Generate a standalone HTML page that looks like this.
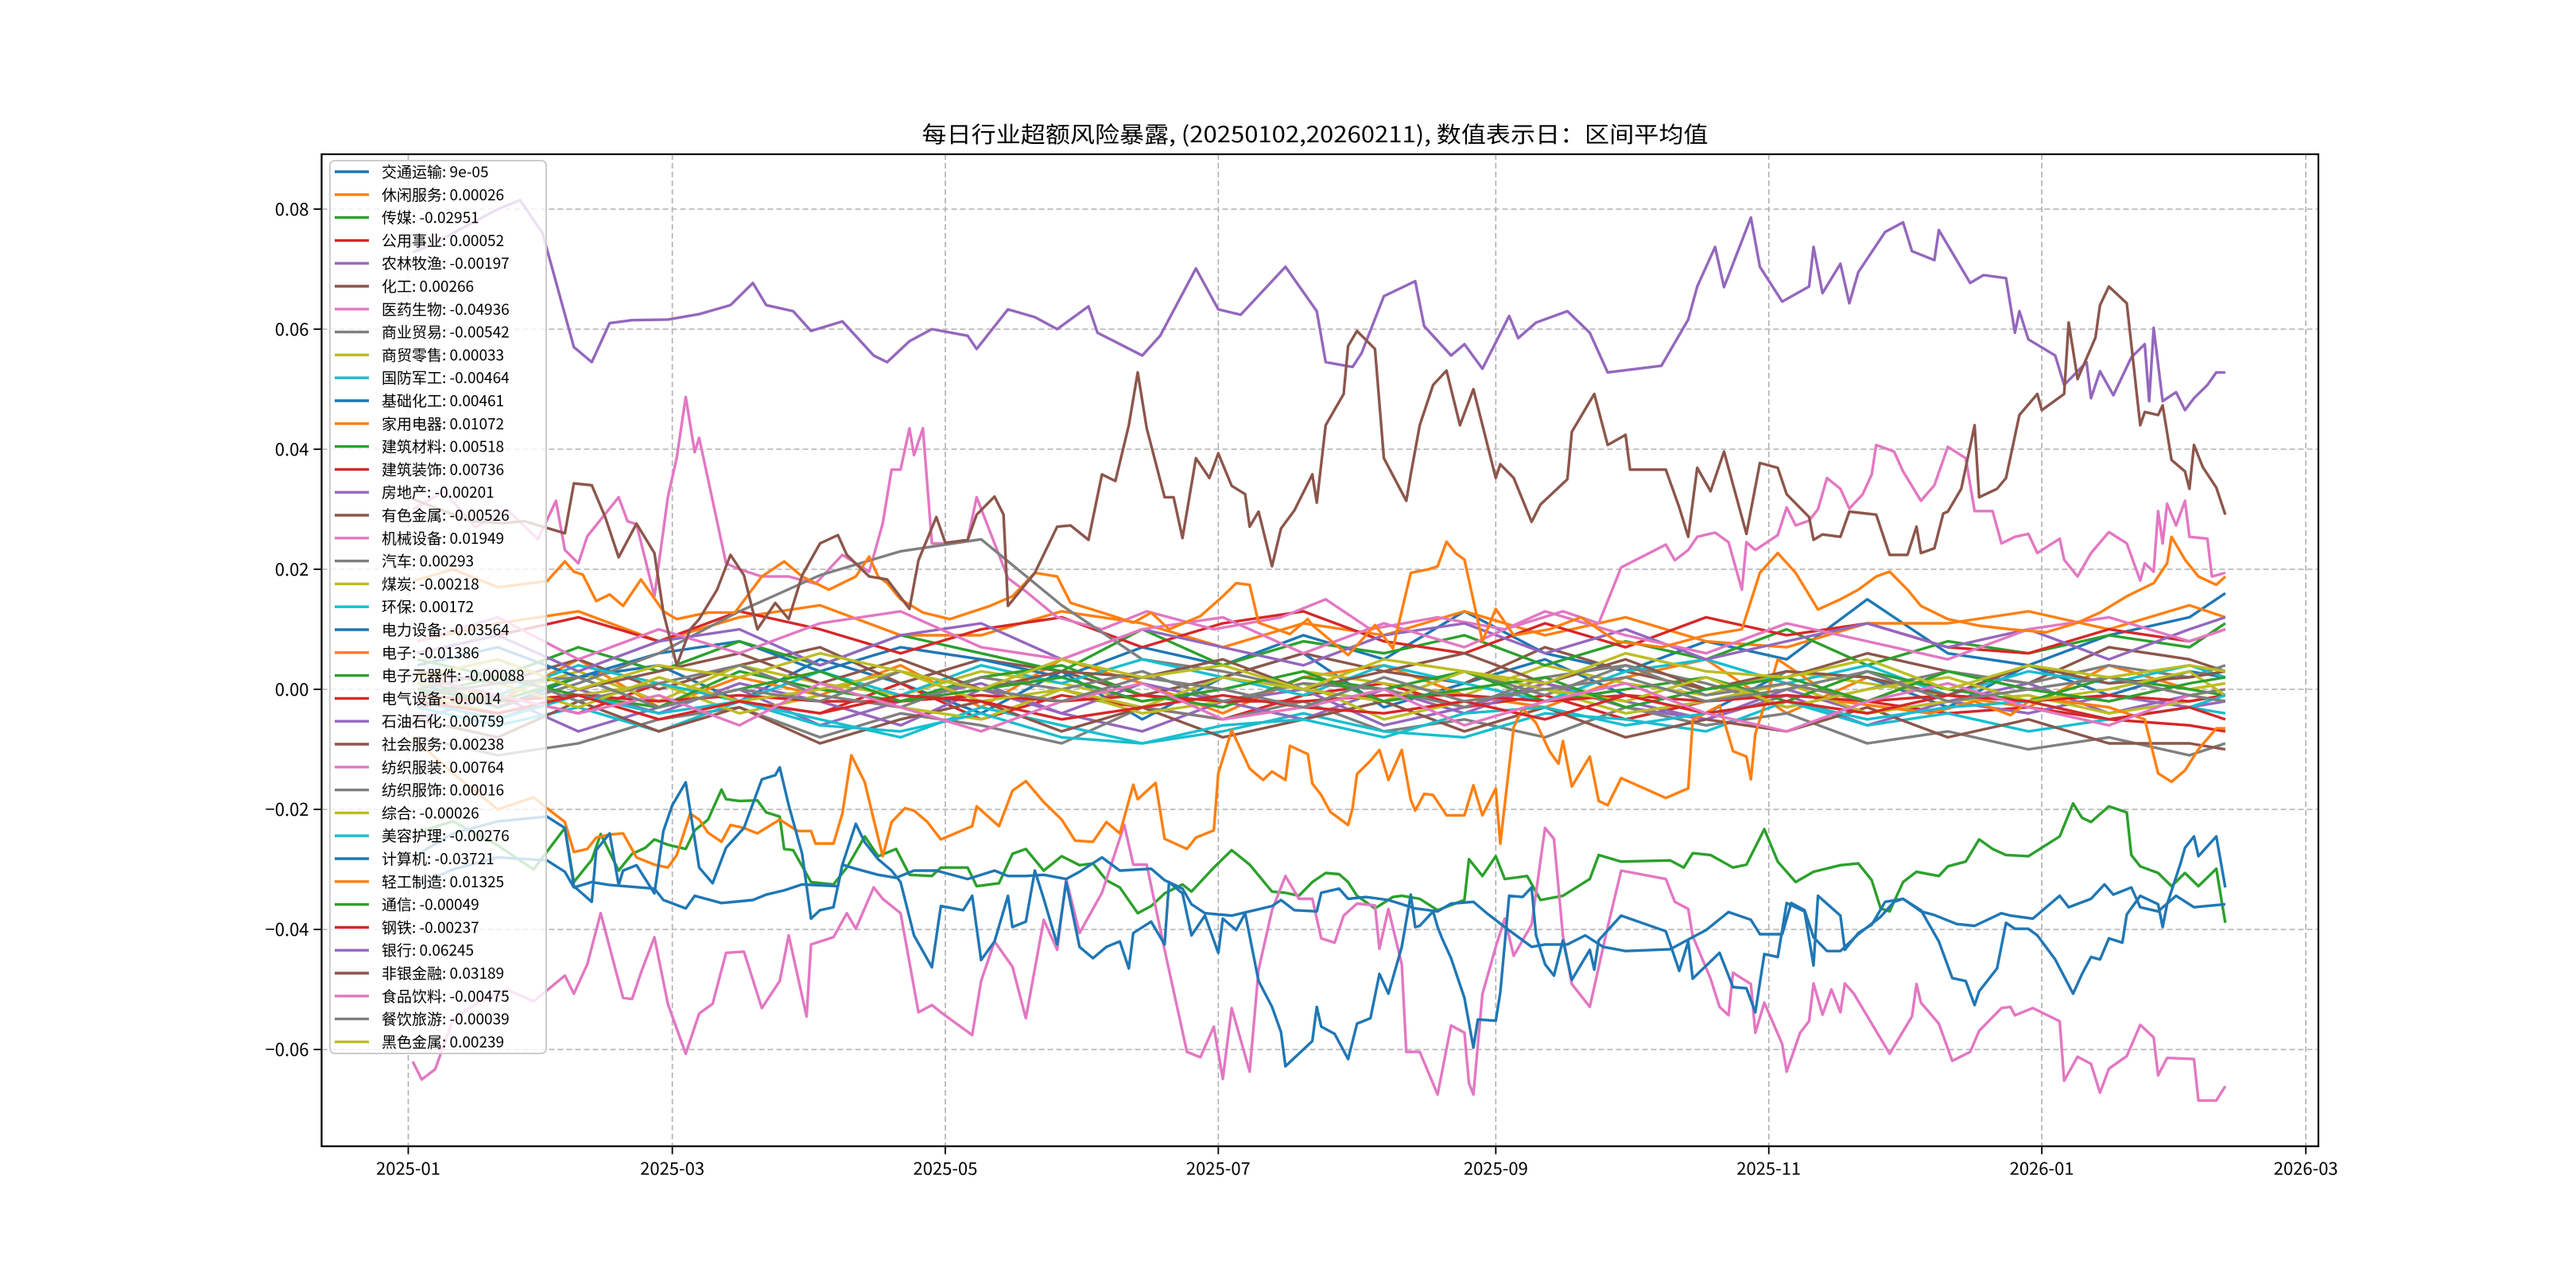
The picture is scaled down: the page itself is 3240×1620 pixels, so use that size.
<!DOCTYPE html>
<html><head><meta charset="utf-8"><title>每日行业超额风险暴露</title>
<style>
html,body{margin:0;padding:0;background:#fff;}
svg{display:block;font-family:"Noto Sans CJK SC","WenQuanYi Zen Hei",sans-serif;}
</style></head>
<body>
<svg id="chart" xmlns="http://www.w3.org/2000/svg" width="3240" height="1620" viewBox="0 0 3240 1620">
<rect x="0" y="0" width="3240" height="1620" fill="#fff"/>
<text x="1654" y="179" text-anchor="middle" font-size="28" textLength="989" lengthAdjust="spacingAndGlyphs" fill="#000">每日行业超额风险暴露, (20250102,20260211), 数值表示日：区间平均值</text>
<g id="grid"></g>
<g id="series"></g>
<rect x="404.5" y="194" width="2511.5" height="1247.7" fill="none" stroke="#000" stroke-width="2.2"/>
<g id="axes"></g>
<g id="legend"></g>
</svg>
<script>
// ---- data (day offsets from 2025-01-01, values in units of 0.001) ----
const xTickDays = [0,59,120,181,243,304,365,424];
const xTickLabels = ['2025-01','2025-03','2025-05','2025-07','2025-09','2025-11','2026-01','2026-03'];
const yTickValues = [-0.06,-0.04,-0.02,0,0.02,0.04,0.06,0.08];
const yTickLabels = ['−0.06','−0.04','−0.02','0.00','0.02','0.04','0.06','0.08'];

const names = ['交通运输','休闲服务','传媒','公用事业','农林牧渔','化工','医药生物','商业贸易','商贸零售','国防军工','基础化工','家用电器','建筑材料','建筑装饰','房地产','有色金属','机械设备','汽车','煤炭','环保','电力设备','电子','电子元器件','电气设备','石油石化','社会服务','纺织服装','纺织服饰','综合','美容护理','计算机','轻工制造','通信','钢铁','银行','非银金融','食品饮料','餐饮旅游','黑色金属'];
const legendValues = ['9e-05','0.00026','-0.02951','0.00052','-0.00197','0.00266','-0.04936','-0.00542','0.00033','-0.00464','0.00461','0.01072','0.00518','0.00736','-0.00201','-0.00526','0.01949','0.00293','-0.00218','0.00172','-0.03564','-0.01386','-0.00088','-0.0014','0.00759','0.00238','0.00764','0.00016','-0.00026','-0.00276','-0.03721','0.01325','-0.00049','-0.00237','0.06245','0.03189','-0.00475','-0.00039','0.00239'];

const smallDays = [2,20,38,56,74,92,110,128,146,164,182,200,218,236,254,272,290,308,326,344,362,380,398,406];
const vJiaotong = [1,-3,2,4,-2,5,1,-4,3,-5,2,6,-3,1,5,-1,-4,3,2,-3,4,-1,3,2];
const vXiuxian = [3,-2,5,-3,2,-1,4,-3,5,1,-4,2,4,-1,-3,2,5,-4,2,-1,-3,4,0,1];
const vGongyong = [-3,-1,-4,1,-2,-4,1,-5,-1,-3,-5,-1,1,-3,-1,-5,-2,1,-2,-4,-3,-5,-6,-7];
const vNonglin = [-5,-1,-7,-3,0,-6,-2,1,-4,-7,-2,0,-6,-3,1,-3,-5,-1,-6,-2,-4,-1,-3,-2];
const vHuagong = [3,1,5,0,4,7,1,5,3,-1,2,6,3,1,7,3,0,2,6,3,1,7,5,3];
const vShangmao = [-8,-11,-9,-5,-3,-8,-4,-6,-9,-3,-5,-2,-7,-5,-8,-3,-6,-4,-9,-7,-10,-8,-11,-9];
const vLingshou = [1,-1,3,-2,4,1,-1,3,1,-2,0,3,1,-1,4,1,-1,3,1,-1,-2,2,0,1];
const vGuofang = [-3,-6,-3,-7,-2,-5,-8,-3,-6,-9,-7,-4,-7,-8,-4,-5,-7,-2,-6,-4,-7,-5,-3,-4];
const vJichu = [4,7,2,6,8,3,7,5,2,7,4,9,5,13,6,3,8,5,15,6,4,9,12,16];
const vJiadian = [8,11,13,8,12,14,9,9,13,11,7,11,9,13,9,12,8,7,11,11,13,10,14,12];
const vJiancai = [5,2,7,3,8,4,9,6,3,10,4,8,6,9,4,8,5,10,4,8,6,9,7,11];
const vJianzhu = [6,9,12,8,13,10,6,10,12,7,11,13,8,6,11,7,12,9,11,7,6,10,8,10];
const vFangdichan = [-2,-5,0,-4,1,-2,-6,0,-4,1,-2,-5,0,-4,1,-2,-5,0,-4,-2,1,-4,-1,-2];
const vYouse = [-5,-8,-2,-7,-3,-9,-5,-2,-7,-3,-8,-5,-2,-7,-3,-8,-5,-7,-3,-8,-5,-9,-9,-10];
const vQiche = [2,-3,1,6,13,19,23,25,14,5,3,0,-2,3,-1,4,1,-3,0,3,1,4,2,4];
const vMeitan = [-1,-4,-1,1,-4,-1,-3,-5,0,-4,-2,1,-5,-2,0,-4,-2,1,-4,-2,-1,-4,-2,-1];
const vHuanbao = [2,-1,4,1,-2,3,-1,4,1,5,2,-1,4,1,-2,3,5,1,4,-1,3,1,4,2];
const vYuanqijian = [-1,2,-1,-3,3,0,-2,2,4,-1,-3,2,0,3,-2,0,2,-2,3,0,-2,2,0,-1];
const vDianqi = [-1,-2,-1,-2,-1,-2,-2,-1,-2,-1,-2,-2,-1,-1,-2,-1,-2,-1,-2,-1,-2,-1,-2,-1];
const vShiyou = [6,9,3,8,10,4,9,11,5,10,7,4,9,11,6,10,5,8,11,7,10,5,10,12];
const vShehui = [2,5,0,3,6,1,5,0,3,2,5,0,3,6,1,5,0,3,2,-1,4,1,2,3];
const vFangzhuang = [8,12,5,10,6,11,13,7,5,10,12,6,11,7,13,9,6,11,8,5,10,12,8,10];
const vFangshi = [0,3,-2,1,4,-1,-3,2,0,3,-2,1,0,-3,2,4,-1,1,-2,3,0,2,-1,0];
const vZonghe = [-1,1,-3,2,-2,0,3,-2,0,-3,2,0,-2,3,0,-2,2,-3,0,2,-2,0,3,-1];
const vMeirong = [-2,-5,-1,-4,-2,-6,-7,-4,-8,-9,-6,-5,-8,-4,-3,-6,-4,-2,-5,-3,-2,-5,-3,-1];
const vTongxin = [0,-2,2,-3,0,3,-2,0,2,-2,0,3,-2,0,2,-3,0,2,-2,3,0,-2,1,2];
const vGangtie = [-2,-4,-1,-5,-2,-4,-1,-2,-5,-3,-1,-3,-4,-2,-5,-1,-4,-2,-4,-1,-2,-5,-3,-5];
const vShipin = [2,-1,-4,-1,-6,1,-3,-7,-2,1,-5,-3,0,-6,-2,1,-4,-7,-2,1,-3,-6,-1,-2];
const vCanyin = [-1,1,2,-3,0,-2,3,0,-2,2,0,-3,2,-2,0,2,-2,0,3,-2,0,2,-1,-2];
const vHeise = [2,5,0,4,2,6,3,0,5,2,4,0,5,3,1,6,3,2,5,0,4,2,4,3];

const mediaDays = [1,10,20,28,35,37,41,43,47,50,53,55,58,62,64,67,70,71,74,78,80,83,84,86,90,95,98,102,105,109,112,117,119,125,127,132,135,138,142,146,150,153,156,159,163,166,169,173,175,180,184,188,193,196,199,202,205,208,210,212,216,220,222,226,230,236,237,240,243,245,250,253,258,264,266,271,282,285,287,291,296,299,303,306,310,314,320,324,327,329,331,334,337,342,344,348,351,354,357,362,369,372,374,376,380,384,385,387,391,394,397,400,404,406];
const mediaVals = [-24,-22,-26,-30,-23.1,-32.1,-28.4,-24.1,-30.2,-27.4,-26.4,-25,-25.9,-26.6,-23.5,-21.7,-16.7,-18.3,-18.6,-18.5,-20.5,-21.2,-26.6,-26.8,-32.1,-32.5,-29.7,-24.5,-27.8,-26.6,-30.9,-31.1,-29.7,-29.7,-32.8,-32.3,-27.4,-26.6,-30.2,-27.8,-29.3,-29,-31.8,-33,-37.3,-36.1,-34,-32.5,-33.7,-29.7,-26.8,-29.2,-33.7,-33.9,-34.4,-32.1,-30.6,-30.8,-32.1,-34.4,-36.5,-34.6,-34.4,-34.9,-36.8,-35.1,-28.3,-31.1,-27.8,-31.6,-31.1,-35.1,-34.4,-31.6,-27.6,-28.7,-28.5,-29.7,-27.3,-27.6,-29.7,-29.2,-23.3,-28.7,-32.1,-30.4,-29.3,-29,-31.8,-36.5,-37,-32.1,-30.4,-31.1,-29.5,-28.7,-25,-26.6,-27.6,-27.8,-24.5,-19,-21.4,-22.1,-19.5,-20.5,-27.6,-29.5,-30.6,-32.8,-30.6,-32.8,-29.9,-38.9];

const pharmaDays = [1,3,6,10,16,22,28,35,37,40,43,46,48,50,52,55,58,62,65,68,71,75,79,83,85,89,90,95,98,100,104,106,110,114,117,119,126,128,131,135,138,142,145,147,150,155,160,162,165,169,174,177,180,182,184,188,190,193,196,199,202,204,207,209,212,216,217,219,222,223,226,230,233,236,237,238,240,243,245,247,251,254,256,258,260,264,268,271,281,283,286,287,291,293,295,296,300,301,303,307,308,311,313,314,316,318,320,321,323,327,331,336,337,338,342,345,349,351,356,358,359,363,369,370,373,376,378,380,384,387,390,391,393,399,400,404,406];
const pharmaVals = [-62,-65,-63.3,-55,-52,-50,-52,-47.7,-50.7,-45.8,-37.3,-45.8,-51.4,-51.6,-47.2,-41.3,-52.4,-60.7,-54,-52.4,-43.9,-43.7,-53.1,-48.6,-41,-54.5,-42.5,-41.3,-37.3,-39.9,-33,-34.9,-37.3,-53.8,-52.6,-53.8,-57.6,-48.6,-42,-46.2,-54.8,-38.4,-43.4,-31.6,-40.6,-33.9,-22.6,-29.2,-29.2,-43.4,-60.4,-61.3,-56.2,-64.9,-53.1,-63.7,-46.7,-36.8,-31.1,-34.9,-34.9,-41.5,-42.2,-37.7,-35.7,-36,-43.2,-36.6,-45.8,-60.4,-60.4,-67.5,-56,-57.2,-65.6,-67.5,-50.8,-42.9,-38.2,-44.4,-39.2,-23.1,-24.9,-41.1,-49.1,-52.9,-39.6,-30.2,-31.6,-35.4,-36.6,-41.1,-48.2,-52.9,-54.3,-47.2,-49.1,-57.2,-52.2,-59.1,-63.7,-57.2,-55.3,-49,-54.2,-50,-53.8,-49,-50.7,-55.7,-60.7,-54.5,-49.1,-52.2,-55.7,-61.9,-60.4,-56.9,-53.1,-52.9,-54.3,-53.1,-55.3,-65.2,-61.2,-62.4,-67.2,-63.2,-61.1,-55.9,-58,-64.3,-61.4,-61.6,-68.5,-68.5,-66.1];

const machDays = [1,8,15,22,29,33,35,38,40,47,49,51,55,58,60,62,64,65,71,74,79,85,91,97,103,106,108,110,112,113,115,117,120,125,127,131,134,138,145,155,165,180,195,205,215,230,245,258,266,271,281,283,286,288,292,295,298,299,301,306,308,310,313,315,317,320,322,325,327,328,332,334,338,341,344,348,350,354,356,359,362,364,369,370,373,376,380,384,387,388,390,391,392,393,395,397,398,402,403,406];
const machVals = [30,33,27,30,25,31.4,23.2,21,25.5,32,28,27.5,15.5,32,38.6,48.7,39.5,41.9,21,20,18.8,18.8,17.6,22.4,19.6,27.6,36.6,36.6,43.5,39,43.5,24.3,24.3,24.9,32,24.3,18.5,16.3,12,10,13,10,12,15,10,12,10,13,11,20.3,24.1,21.5,23.2,25.4,26.1,24.5,16.6,24.5,23.2,25.7,30.3,27.3,28.1,30,35.2,33.4,30.1,32.5,35.8,40.7,39.6,36.3,31.4,34,40.4,38.5,29.7,29.7,24.3,25.4,25.9,22.7,25.1,21.6,18.8,22.7,26.2,24.3,18.1,21,19.6,29.7,24.3,30.9,27.3,31.4,25.4,25.1,18.8,19.4];

const powerDays = [1,10,20,31,35,37,41,45,55,57,62,64,70,77,80,84,88,96,97,100,105,109,113,118,125,131,134,138,142,147,150,155,159,166,169,173,175,178,184,188,193,195,198,203,204,208,210,214,219,222,225,230,233,238,241,245,251,254,259,263,267,272,282,286,290,295,300,302,307,309,312,314,317,320,324,329,332,334,338,341,346,350,356,358,363,369,371,376,379,381,385,387,391,395,399,406];
const powerVals = [-33,-30,-28,-28.5,-30.4,-33,-32.1,-32.6,-33.2,-35.1,-36.5,-34.4,-35.6,-35.1,-34.2,-33.5,-32.5,-32.8,-29.2,-29.9,-30.9,-31.4,-30.2,-30.2,-31.6,-30.2,-31.1,-31.1,-30.9,-31.6,-30.4,-28,-30.2,-29.9,-31.8,-33.2,-35.8,-37.3,-37.7,-37,-36.1,-35.1,-36.8,-37,-33.9,-33.2,-34.9,-34.6,-35.1,-35.8,-36.5,-37,-35.7,-35.4,-37.3,-39.6,-42.9,-42.5,-42.5,-41,-42.9,-43.6,-43.3,-41.7,-40.1,-37.1,-38.4,-40.8,-40.8,-35.6,-36.8,-41.3,-43.6,-43.6,-40.8,-37.9,-35.4,-34.9,-37,-37.6,-39.1,-39.4,-37.3,-37.7,-38.2,-34.4,-36.3,-34.9,-32.5,-34.2,-33,-36.3,-37,-34.4,-36.3,-35.8];

const elecDays = [1,10,20,28,31,35,37,40,42,45,48,51,55,58,60,63,65,67,70,72,75,78,83,87,90,91,95,97,99,102,104,106,108,111,113,116,119,126,127,132,135,138,142,146,149,153,156,159,162,163,167,169,174,176,180,181,184,188,191,193,196,197,201,202,204,206,210,211,212,215,217,219,222,224,225,227,229,232,236,238,240,243,244,247,249,252,255,257,258,260,264,266,268,271,281,286,287,293,296,299,300,301,303,306,310,320,330,340,350,358,363,370,380,388,391,394,397,400,404,406];
const elecVals = [-8,-14,-20,-18,-19.8,-22.1,-27.1,-26.6,-24.7,-24.2,-24,-28,-29.2,-29.7,-27.6,-20.7,-21.7,-23.9,-25.4,-22.6,-23.1,-24,-21.7,-23.6,-23.6,-25.7,-25.7,-20.7,-11,-15.5,-21.7,-27.8,-22.1,-19.8,-20.2,-22.1,-25,-22.8,-19.5,-22.8,-16.9,-15.3,-18.8,-21.7,-25.2,-25.4,-22.1,-24,-15.9,-18.3,-15.6,-24.9,-26.6,-24.7,-23.5,-14,-6.8,-13.2,-15.1,-13.7,-15.1,-9.4,-10.8,-15.7,-17.6,-20.4,-22.6,-19.8,-14.1,-11.9,-10.1,-15.1,-10.1,-18.4,-20.2,-17.4,-17.6,-21,-21,-16,-21,-16.5,-25.7,-6.3,-3.2,-5.6,-10.3,-12.4,-8.6,-16.2,-11.2,-18.6,-19.3,-14.8,-18.1,-16.5,-5.1,-2.7,-10.3,-11.2,-15,-7.4,-2.7,5,3,-2,-3,-4,-2,-4.3,-1.5,-2,-3,-5,-14,-15.4,-13.5,-10,-6.5,-6.5];

const computerDays = [1,10,20,31,35,37,41,42,45,47,48,51,55,57,59,62,65,68,71,75,79,82,83,85,88,90,92,95,97,100,102,105,108,110,113,117,119,124,126,128,131,134,135,138,140,142,145,147,150,153,156,159,161,162,166,169,170,173,175,178,181,182,185,187,190,193,195,196,200,202,203,204,207,210,212,215,217,219,222,224,225,226,229,230,231,233,236,238,239,243,244,246,249,251,252,254,256,258,260,264,265,266,271,281,284,286,287,293,296,299,301,303,306,308,312,314,315,320,321,324,327,330,334,338,342,345,348,350,351,355,357,359,362,364,368,372,374,376,378,380,383,384,387,391,392,393,396,397,399,400,404,406];
const computerVals = [-28,-24,-22,-21.2,-23.1,-32.8,-35.4,-26.8,-24,-32.6,-30.2,-29.3,-34,-23.6,-19.3,-15.5,-29.7,-32.3,-26.4,-23.1,-15,-14.3,-13,-19.3,-27.4,-38.2,-36.8,-36.3,-29.2,-22.4,-25.5,-28.3,-30.2,-32.1,-41,-46.3,-36.1,-36.8,-34.4,-45.1,-42,-34.4,-39.6,-38.7,-30.2,-34.9,-42.5,-32.1,-42.9,-44.8,-42.9,-42,-46.5,-40.6,-38.7,-42.5,-32.1,-34,-41,-37.7,-43.9,-38.2,-40.1,-37.3,-48.6,-52.9,-57.1,-62.8,-60,-58.6,-52.9,-56.2,-57.4,-61.6,-55.7,-54.8,-47.4,-50.7,-42.9,-34.2,-39.6,-39.4,-37,-39.6,-41.5,-44.8,-51.4,-59.7,-55,-55.2,-50.5,-34.4,-34.6,-33,-41,-45.8,-47.7,-41.8,-48.4,-43.4,-46.7,-41.8,-37.7,-40.3,-46.9,-42,-48.2,-43.9,-49.6,-49.8,-53.8,-44.1,-44.6,-35.6,-37,-46,-34.4,-37.7,-43.4,-40.6,-39.2,-35.4,-34.9,-36.8,-42,-48.1,-48.6,-52.6,-50.3,-46.5,-38.9,-39.9,-39.9,-41,-45,-50.7,-47.4,-44.6,-45,-41.5,-42.2,-37.5,-34.4,-35.8,-39.6,-35.8,-29,-26.4,-24.5,-27.8,-24.5,-33];

const lightDays = [1,10,20,31,35,37,39,42,45,48,52,57,60,67,73,79,84,88,94,100,103,105,107,110,115,121,130,135,140,145,148,155,162,166,170,177,182,185,188,190,197,201,202,210,216,220,224,228,230,232,234,236,240,243,247,255,262,270,280,290,298,302,306,310,315,320,324,328,331,335,338,344,351,358,366,373,378,384,390,393,394,397,400,404,406];
const lightVals = [18,20,17,18,21.3,19.6,19.1,14.7,15.8,13.9,18.3,13,11.7,12.8,12.8,18.8,21.3,18.8,16.6,18.8,22.1,18.8,17.7,15,12.8,11.7,13.9,15.5,19.4,18.8,14.4,12.8,11.1,12.8,10,12.2,15.5,17.7,17.4,11.1,9.2,11.7,10.7,5.7,10.7,6.8,19.4,20,20.5,24.6,22.7,21.6,8,13.4,9,10,12,8,7,9,10,19.4,22.7,19.4,13.3,15,16.6,18.8,19.6,16.6,13.9,11.7,10.6,10,9.5,11.1,12.8,15.5,17.7,21,25.4,21.6,18.8,17.4,18.8];

const bankDays = [1,5,10,15,20,25,30,37,41,45,50,58,65,72,77,80,86,90,97,104,107,112,117,125,127,134,140,145,152,154,164,168,176,181,186,196,203,205,211,213,218,225,227,233,236,240,246,248,252,259,264,268,280,286,288,292,294,300,302,307,313,314,316,320,322,324,330,334,336,341,342,349,352,357,359,360,362,368,370,375,376,378,381,385,388,389,390,392,395,397,399,402,404,406];
const bankVals = [72.8,74,76,78,80,81.5,76,57,54.5,61,61.5,61.6,62.5,64,67.7,64,63,59.7,61.3,55.6,54.5,58,60,58.9,56.7,63.3,62,60,63.8,59.4,55.6,58.9,70.1,63.3,62.4,70.4,63,54.5,53.7,56,65.5,68,60.5,55.6,57.5,53.4,62.2,58.5,61.1,63,59.4,52.8,53.9,61.6,67.1,73.7,67,78.6,70.4,64.6,67.1,73.7,66,70.9,64.3,69.5,76.2,77.8,73,71.5,76.5,67.7,69,68.5,59.4,63,58.3,55.6,50.7,54.5,48.5,53,49,55.3,57.5,48,60.2,48,49.5,46.5,48.5,50.7,52.8,52.8];

const finDays = [1,7,14,21,26,35,37,41,44,47,51,55,57,60,63,65,69,72,75,78,82,85,88,92,96,98,103,107,112,114,118,120,125,127,131,133,134,140,145,148,152,155,158,161,163,165,169,171,173,176,179,181,184,187,188,190,193,195,198,202,203,205,209,210,212,216,218,223,224,226,229,232,235,238,243,244,247,251,253,259,260,265,268,272,273,281,284,286,288,291,294,299,302,306,308,313,314,316,320,322,328,331,335,337,338,341,343,344,347,350,351,355,357,360,364,365,370,371,373,377,378,380,384,387,388,391,392,394,397,398,399,401,404,406];
const finVals = [31.7,30,28,27.7,28,26,34.3,34,28.7,22,27.6,22.7,12.8,4,10,11.7,16.6,22.4,19,10,14.4,11.7,19,24.3,25.7,22.4,18.8,18.3,13.4,21.5,28.7,24.4,24.9,29.1,32.1,29.1,13.9,19.4,27.1,27.3,24.9,35.8,34.7,44,52.8,43.5,32,32,25.2,38.5,35.2,39.3,33.9,32.5,27.1,29.6,20.5,26.8,29.8,35.8,31.1,44,49.2,57.2,59.7,56.7,38.5,31.4,35.8,44,50.7,53.1,44,50,35.2,37.5,35.2,27.9,30.8,35,42.9,49.2,40.7,42.4,36.6,36.6,30.3,25.4,36.9,33,39.6,25.9,37.7,36.9,32.5,28.7,24.9,25.8,25.4,29.6,29.1,22.4,22.4,27.1,22.7,23.5,29.3,29.6,33.4,44,32,33.4,35.2,45.7,49.2,46.5,49.2,61.1,51.7,58.6,64,67.1,64.3,44,46.2,45.7,47.3,38.2,36.3,33.4,40.7,37,33.6,29.1];

const colors = ['#1f77b4','#ff7f0e','#2ca02c','#d62728','#9467bd','#8c564b','#e377c2','#7f7f7f','#bcbd22','#17becf'];

// series in legend order: [days, values]
const seriesData = [
  [smallDays,vJiaotong],[smallDays,vXiuxian],[mediaDays,mediaVals],[smallDays,vGongyong],[smallDays,vNonglin],
  [smallDays,vHuagong],[pharmaDays,pharmaVals],[smallDays,vShangmao],[smallDays,vLingshou],[smallDays,vGuofang],
  [smallDays,vJichu],[smallDays,vJiadian],[smallDays,vJiancai],[smallDays,vJianzhu],[smallDays,vFangdichan],
  [smallDays,vYouse],[machDays,machVals],[smallDays,vQiche],[smallDays,vMeitan],[smallDays,vHuanbao],
  [powerDays,powerVals],[elecDays,elecVals],[smallDays,vYuanqijian],[smallDays,vDianqi],[smallDays,vShiyou],
  [smallDays,vShehui],[smallDays,vFangzhuang],[smallDays,vFangshi],[smallDays,vZonghe],[smallDays,vMeirong],
  [computerDays,computerVals],[lightDays,lightVals],[smallDays,vTongxin],[smallDays,vGangtie],[bankDays,bankVals],
  [finDays,finVals],[smallDays,vShipin],[smallDays,vCanyin],[smallDays,vHeise]
];

// ---- scales ----
const PX_PER_DAY = 5.629, X0 = 513.5;
const Y0 = 867, PX_PER_UNIT = 7550;
function xScale(day){ return X0 + day*PX_PER_DAY; }
function yScale(v){ return Y0 - v*PX_PER_UNIT; }

const NS = 'http://www.w3.org/2000/svg';
function mk(tag, attrs){ const e=document.createElementNS(NS,tag); for(const k in attrs) e.setAttribute(k,attrs[k]); return e; }

const grid = document.getElementById('grid');
const axes = document.getElementById('axes');
const PL=404.5, PR=2916, PT=194, PB=1441.7;

xTickDays.forEach((d,i)=>{
  const x = xScale(d);
  const gl = mk('line',{x1:x,x2:x,y1:PT,y2:PB,stroke:'#b0b0b0','stroke-width':1.6,'stroke-dasharray':'7,4'});
  
  
  grid.appendChild(gl);
  const tk = mk('line',{x1:x,x2:x,y1:PB,y2:PB+10,stroke:'#000','stroke-width':1.8});
  
  
  axes.appendChild(tk);
  const t = mk('text',{x:x,y:PB+36,'text-anchor':'middle','font-size':22,fill:'#000'});
  t.textContent = xTickLabels[i];
  
  
  axes.appendChild(t);
});
yTickValues.forEach((v,i)=>{
  const y = yScale(v);
  const gl = mk('line',{x1:PL,x2:PR,y1:y,y2:y,stroke:'#b0b0b0','stroke-width':1.6,'stroke-dasharray':'7,4'});
  
  
  grid.appendChild(gl);
  const tk = mk('line',{x1:PL-10,x2:PL,y1:y,y2:y,stroke:'#000','stroke-width':1.8});
  
  
  axes.appendChild(tk);
  const t = mk('text',{x:PL-16,y:y+8,'text-anchor':'end','font-size':22,fill:'#000'});
  t.textContent = yTickLabels[i];
  
  
  axes.appendChild(t);
});

const sg = document.getElementById('series');
seriesData.forEach((s,i)=>{
  const days=s[0], vals=s[1];
  let d='';
  for(let k=0;k<days.length;k++){ d += (k?'L':'M') + xScale(days[k]).toFixed(1) + ',' + yScale(vals[k]/1000).toFixed(1); }
  const p = mk('path',{d:d,fill:'none',stroke:colors[i%10],'stroke-width':3.4,'stroke-linejoin':'round'});
  
  
  sg.appendChild(p);
});

// legend
const lg = document.getElementById('legend');
const box = mk('rect',{x:415,y:202,width:272,height:1123,rx:6,fill:'#fff','fill-opacity':0.8,stroke:'#cccccc','stroke-width':2});


lg.appendChild(box);
names.forEach((n,i)=>{
  const cy = 216 + i*28.8;
  const g = mk('g',{});
  
  
  const ln = mk('line',{x1:421,x2:464,y1:cy,y2:cy,stroke:colors[i%10],'stroke-width':3.4});
  
  
  g.appendChild(ln);
  const t = mk('text',{x:480,y:cy+7,'font-size':19,fill:'#000'});
  t.textContent = n + ': ' + legendValues[i];
  
  
  g.appendChild(t);
  lg.appendChild(g);
});
</script>
</body></html>
